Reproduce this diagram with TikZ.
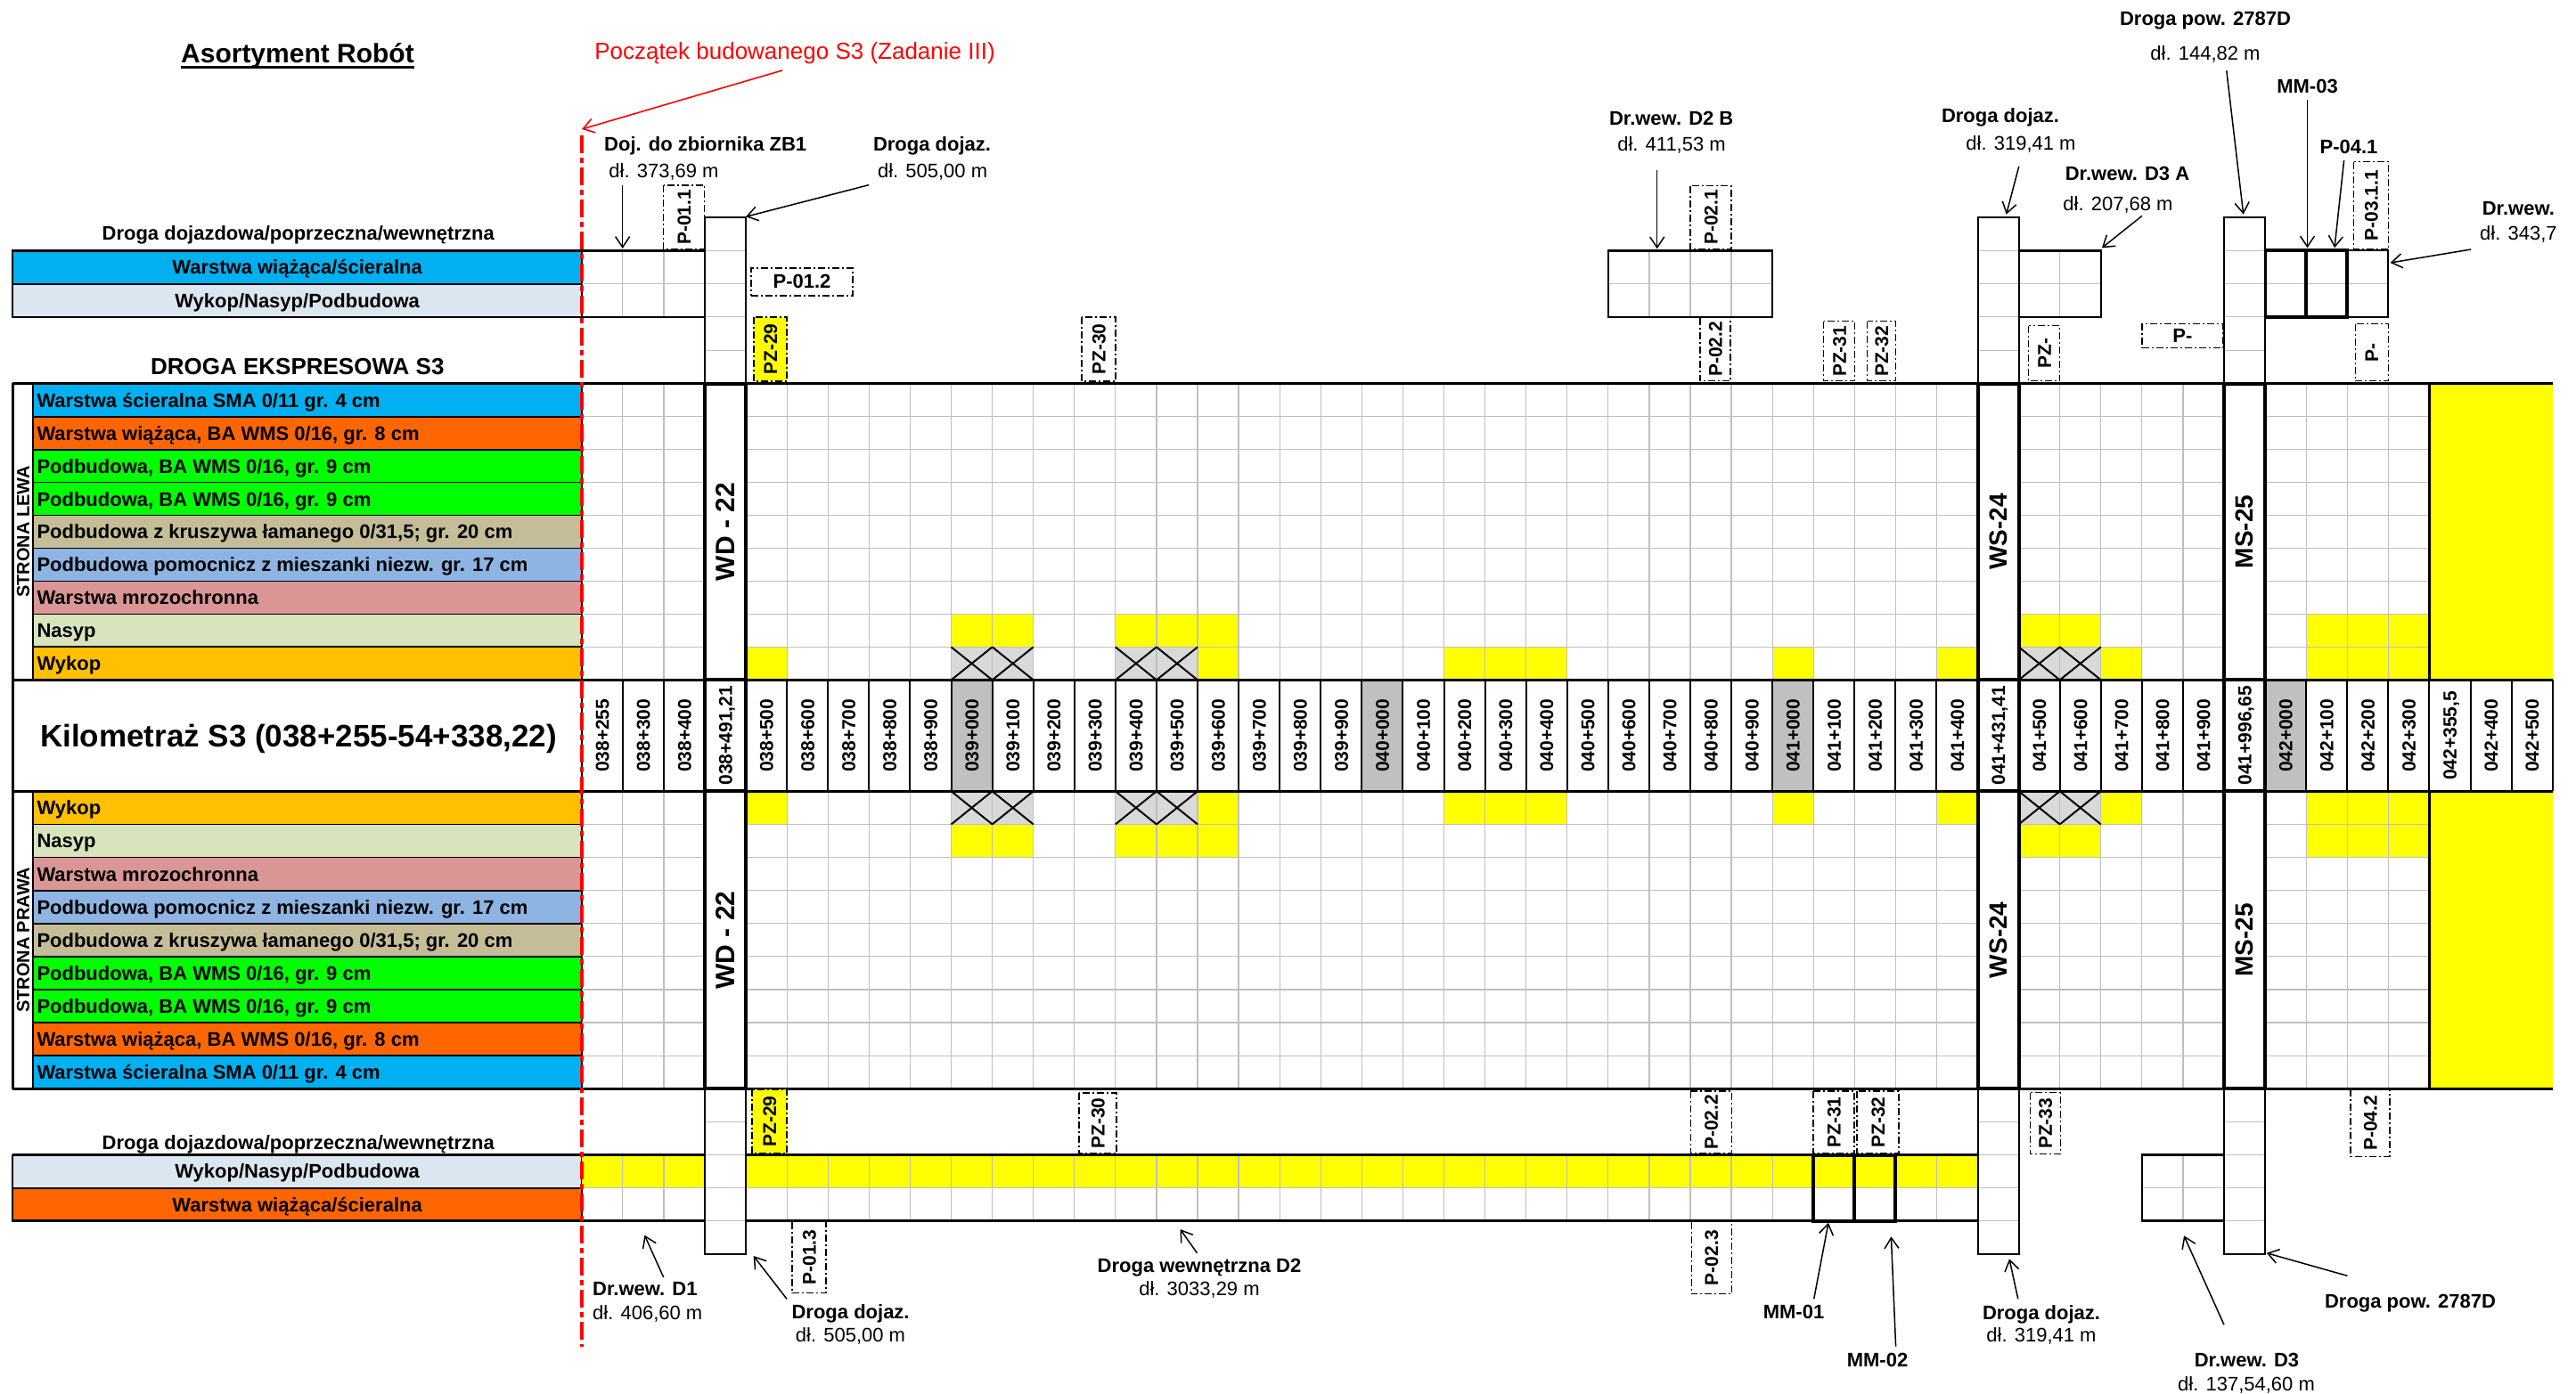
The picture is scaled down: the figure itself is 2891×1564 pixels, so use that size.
\documentclass[tikz,border=0pt]{standalone}
\usepackage{fontspec}
\setmainfont{Liberation Sans}
\usetikzlibrary{arrows.meta}

% kolory warstw
\definecolor{scieralna}{HTML}{00B0F0}
\definecolor{wiazaca}{HTML}{FF6600}
\definecolor{podbud}{HTML}{00FF00}
\definecolor{kruszywo}{HTML}{C4BD97}
\definecolor{pomocn}{HTML}{8DB4E2}
\definecolor{mrozo}{HTML}{DA9694}
\definecolor{nasyp}{HTML}{D8E4BC}
\definecolor{wykop}{HTML}{FFC000}
\definecolor{drogaw}{HTML}{DCE6F1}
\definecolor{szarysiatki}{HTML}{BFBFBF}
\definecolor{szarykm}{HTML}{C0C0C0}
\definecolor{krzyz}{HTML}{D9D9D9}
\definecolor{zolty}{HTML}{FFFF00}

\newcommand{\xo}{652.8}  % poczatek siatki (038+255)
\newcommand{\cw}{46.08}  % szerokosc kolumny

\tikzset{
  opis/.style={font=\fontsize{22}{24}\selectfont\bfseries, inner sep=0pt, text height=15.8pt, text depth=0pt},
  dlugosc/.style={font=\fontsize{22}{24}\selectfont, inner sep=0pt, text height=15.8pt, text depth=0pt},
  warstwa/.style={opis, anchor=west},
  km/.style={font=\fontsize{21}{23}\selectfont\bfseries, rotate=90, inner sep=0pt, text height=15pt, text depth=0pt},
  strona/.style={font=\fontsize{20}{22}\selectfont\bfseries, rotate=90, inner sep=0pt, text height=14.3pt, text depth=0pt},
  przekroj/.style={draw, line width=1.2pt, dash pattern=on 8pt off 3pt on 2pt off 3pt,
    font=\fontsize{21}{23}\selectfont\bfseries, inner sep=0pt, text height=15pt, text depth=0pt},
  pion/.style={przekroj, rotate=90},
  wskaz/.style={-{Straight Barb[length=12pt,width=16pt]}, line width=1.5pt},
  siatka/.style={draw=szarysiatki, line width=1.2pt},
  gruba/.style={line width=4pt},
}

\begin{document}
\begin{tikzpicture}[x=1pt,y=-1pt]
\useasboundingbox (0,0) rectangle (2891,1564);

% Tytul
\node[font=\fontsize{30}{32}\selectfont\bfseries, inner sep=0pt, anchor=base] (tytul) at (334,70) {Asortyment Robót};
\draw[line width=2.7pt] ([yshift=-5.5pt]tytul.base west) -- ([yshift=-5.5pt]tytul.base east);
\node[opis, font=\fontsize{26}{28}\selectfont\bfseries, text height=18.7pt] (ds3) at (333.8,410.7) {DROGA EKSPRESOWA S3};

% Droga dojazdowa - gora
\node[opis] (dd1) at (334.7,261.7) {Droga dojazdowa/poprzeczna/wewnętrzna};
\filldraw[fill=scieralna, line width=2pt] (14.4,281.3) rectangle (\xo,318.5);
\filldraw[fill=drogaw, line width=2pt] (14.4,318.5) rectangle (\xo,355.8);
\node[opis] (ww1) at (333.6,299.9) {Warstwa wiążąca/ścieralna};
\node[opis] (wnp1) at (333.6,337.1) {Wykop/Nasyp/Podbudowa};
\foreach \i in {1,2} \draw[siatka] (\xo+\cw*\i,281.3) -- (\xo+\cw*\i,355.8);
\draw[siatka] (\xo,318.5) -- (\xo+\cw*3,318.5);
\draw[line width=2.5pt] (14.4,281.3) -- (\xo+\cw*3,281.3);
\draw[line width=2.5pt] (14.4,355.8) -- (\xo+\cw*3,355.8);

% Opisy warstw - strona lewa
\foreach \kol [count=\j from 0] in {scieralna,wiazaca,podbud,podbud,kruszywo,pomocn,mrozo,nasyp,wykop}
  \filldraw[fill=\kol, line width=1.8pt] (37.3,430.7+36.96*\j) rectangle (\xo,430.7+36.96*\j+36.96);
\node[warstwa] (l1) at (41.3,449.2) {Warstwa ścieralna SMA 0/11 gr. 4 cm};
\node[warstwa] (l2) at (41.3,486.1) {Warstwa wiążąca, BA WMS 0/16, gr. 8 cm};
\node[warstwa] (l3) at (41.3,523.1) {Podbudowa, BA WMS 0/16, gr. 9 cm};
\node[warstwa] (l4) at (41.3,560.1) {Podbudowa, BA WMS 0/16, gr. 9 cm};
\node[warstwa] (l5) at (41.3,597.0) {Podbudowa z kruszywa łamanego 0/31,5; gr. 20 cm};
\node[warstwa] (l6) at (41.3,634.0) {Podbudowa pomocnicz z mieszanki niezw. gr. 17 cm};
\node[warstwa] (l7) at (41.3,670.9) {Warstwa mrozochronna};
\node[warstwa] (l8) at (41.3,707.9) {Nasyp};
\node[warstwa] (l9) at (41.3,744.8) {Wykop};
\draw[line width=2pt] (14.4,430.7) rectangle (37.3,763.3);
\node[strona] (lewa) at (25.8,597) {STRONA LEWA};

% Opisy warstw - strona prawa
\foreach \kol [count=\j from 0] in {wykop,nasyp,mrozo,pomocn,kruszywo,podbud,podbud,wiazaca,scieralna}
  \filldraw[fill=\kol, line width=1.8pt] (37.3,888.3+37.11*\j) rectangle (\xo,888.3+37.11*\j+37.11);
\node[warstwa] (p1) at (41.3,906.9) {Wykop};
\node[warstwa] (p2) at (41.3,944.0) {Nasyp};
\node[warstwa] (p3) at (41.3,981.1) {Warstwa mrozochronna};
\node[warstwa] (p4) at (41.3,1018.2) {Podbudowa pomocnicz z mieszanki niezw. gr. 17 cm};
\node[warstwa] (p5) at (41.3,1055.3) {Podbudowa z kruszywa łamanego 0/31,5; gr. 20 cm};
\node[warstwa] (p6) at (41.3,1092.4) {Podbudowa, BA WMS 0/16, gr. 9 cm};
\node[warstwa] (p7) at (41.3,1129.5) {Podbudowa, BA WMS 0/16, gr. 9 cm};
\node[warstwa] (p8) at (41.3,1166.6) {Warstwa wiążąca, BA WMS 0/16, gr. 8 cm};
\node[warstwa] (p9) at (41.3,1203.7) {Warstwa ścieralna SMA 0/11 gr. 4 cm};
\draw[line width=2pt] (14.4,888.3) rectangle (37.3,1222.3);
\node[strona] (prawa) at (25.8,1055.3) {STRONA PRAWA};

% Wykop i nasyp w siatce
\foreach \i in {9,10,13,14,15,35,36,42,43,44} {
  \fill[zolty] (\xo+\cw*\i,689.4) rectangle +(\cw,36.96);
  \fill[zolty] (\xo+\cw*\i,925.4) rectangle +(\cw,37.11);
}
\foreach \i in {4,15,21,22,23,29,33,37,42,43,44} {
  \fill[zolty] (\xo+\cw*\i,726.4) rectangle +(\cw,36.96);
  \fill[zolty] (\xo+\cw*\i,888.3) rectangle +(\cw,37.11);
}
\foreach \i in {9,10,13,14,35,36} {
  \fill[krzyz] (\xo+\cw*\i,726.4) rectangle +(\cw,36.96);
  \fill[krzyz] (\xo+\cw*\i,888.3) rectangle +(\cw,37.11);
}

% Siatka
\foreach \j in {0,...,9} {
  \draw[siatka] (\xo,430.7+36.96*\j) -- (\xo+\cw*45,430.7+36.96*\j);
  \draw[siatka] (\xo,888.3+37.11*\j) -- (\xo+\cw*45,888.3+37.11*\j);
}
\foreach \i in {1,...,45} {
  \draw[siatka] (\xo+\cw*\i,430.7) -- (\xo+\cw*\i,763.3);
  \draw[siatka] (\xo+\cw*\i,888.3) -- (\xo+\cw*\i,1222.3);
}
\foreach \i in {9,10,13,14,35,36} {
  \draw[line width=2pt] (\xo+\cw*\i,726.4) -- +(\cw,36.96) (\xo+\cw*\i+\cw,726.4) -- +(-\cw,36.96);
  \draw[line width=2pt] (\xo+\cw*\i,888.3) -- +(\cw,37.11) (\xo+\cw*\i+\cw,888.3) -- +(-\cw,37.11);
}
\fill[zolty] (\xo+\cw*45,430.7) rectangle (2865,763.3);
\fill[zolty] (\xo+\cw*45,888.3) rectangle (2865,1222.3);
\draw[line width=3pt] (\xo+\cw*45,430.7) -- (\xo+\cw*45,763.3);
\draw[line width=3pt] (\xo+\cw*45,888.3) -- (\xo+\cw*45,1222.3);

% Kilometraz
\foreach \i in {9,19,29,41} \fill[szarykm] (\xo+\cw*\i,763.3) rectangle +(\cw,125);
\foreach \i in {0,...,48} \draw[line width=2pt] (\xo+\cw*\i,763.3) -- +(0,125);
\draw[line width=2pt] (14.4,763.3) -- (14.4,888.3);
\node[font=\fontsize{35}{37}\selectfont\bfseries, inner sep=0pt, text height=25pt, text depth=0pt] (kms3) at (335,826) {Kilometraż S3 (038+255-54+338,22)};

% Grube linie
\foreach \y in {430.7,763.3,888.3,1222.3} \draw[line width=3pt] (14.4,\y) -- (2865,\y);
\draw[line width=3pt] (14.4,430.7) -- (14.4,1222.3);

% Droga dojazdowa - dol
\node[opis] (dd2) at (334.7,1282.3) {Droga dojazdowa/poprzeczna/wewnętrzna};
\filldraw[fill=drogaw, line width=2pt] (14.4,1296.5) rectangle (\xo,1333.6);
\filldraw[fill=wiazaca, line width=2pt] (14.4,1333.6) rectangle (\xo,1370.7);
\node[opis] (wnp2) at (333.6,1315) {Wykop/Nasyp/Podbudowa};
\node[opis] (ww2) at (333.6,1352.2) {Warstwa wiążąca/ścieralna};
\fill[zolty] (\xo,1296.5) rectangle (\xo+\cw*34,1333.6);
\foreach \i in {1,...,33} \draw[siatka] (\xo+\cw*\i,1296.5) -- (\xo+\cw*\i,1370.7);
\draw[siatka] (\xo,1333.6) -- (\xo+\cw*34,1333.6);
\draw[line width=2.5pt] (14.4,1296.5) -- (\xo+\cw*34,1296.5);
\draw[line width=2.5pt] (14.4,1370.7) -- (\xo+\cw*34,1370.7);
\draw[gruba] (\xo+\cw*30,1296.5) rectangle +(\cw,74.2);
\draw[gruba] (\xo+\cw*31,1296.5) rectangle +(\cw,74.2);

% Dr.wew. D3 - dol
\draw[siatka] (\xo+\cw*39,1296.5) -- +(0,74.2);
\draw[siatka] (\xo+\cw*38,1333.6) -- +(\cw*2,0);
\draw[line width=2.5pt] (\xo+\cw*38,1296.5) rectangle +(\cw*2,74.2);

% Dr.wew. D2 B, D3 A, MM-03 - gora
\foreach \i in {26,27,28} \draw[siatka] (\xo+\cw*\i,281.3) -- +(0,74.5);
\draw[siatka] (\xo+\cw*25,318.5) -- +(\cw*4,0);
\draw[line width=2.5pt] (\xo+\cw*25,281.3) rectangle +(\cw*4,74.5);
\draw[siatka] (\xo+\cw*36,281.3) -- +(0,74.5);
\draw[siatka] (\xo+\cw*35,318.5) -- +(\cw*2,0);
\draw[line width=2.5pt] (\xo+\cw*35,281.3) rectangle +(\cw*2,74.5);
\draw[siatka] (\xo+\cw*41,318.5) -- +(\cw*3,0);
\draw[line width=2pt] (\xo+\cw*43,281.3) rectangle +(\cw,74.5);
\draw[gruba] (\xo+\cw*41,281.3) rectangle +(\cw,74.5);
\draw[gruba] (\xo+\cw*42,281.3) rectangle +(\cw,74.5);

% Obiekty WD-22, WS-24, MS-25
\foreach \i/\nazwa/\rozm [count=\n] in {3/{WD - 22}/30,34/WS-24/28,40/MS-25/28} {
  \draw[line width=2pt, fill=white] (\xo+\cw*\i,244.3) rectangle +(\cw,186.4);
  \draw[line width=2pt, fill=white] (\xo+\cw*\i,1222.3) rectangle +(\cw,186);
  \foreach \y in {281.3,318.5,355.8,393.2,1259.4,1296.5,1333.6,1370.7}
    \draw[siatka] (\xo+\cw*\i,\y) -- +(\cw,0);
  \draw[line width=2pt] (\xo+\cw*\i,244.3) rectangle +(\cw,186.4);
  \draw[line width=2pt] (\xo+\cw*\i,1222.3) rectangle +(\cw,186);
  \draw[gruba, fill=white] (\xo+\cw*\i,430.7) rectangle +(\cw,332.6);
  \draw[gruba, fill=white] (\xo+\cw*\i,763.3) rectangle +(\cw,125);
  \draw[gruba, fill=white] (\xo+\cw*\i,888.3) rectangle +(\cw,334);
  \node[font=\fontsize{\rozm}{\rozm}\selectfont\bfseries, rotate=90, inner sep=0pt] (obg\n) at (\xo+\cw*\i+\cw/2,597) {\nazwa};
  \node[font=\fontsize{\rozm}{\rozm}\selectfont\bfseries, rotate=90, inner sep=0pt] (obd\n) at (\xo+\cw*\i+\cw/2,1055.3) {\nazwa};
}

% Opisy kilometrazu
\foreach \km [count=\i from 0] in {038+255,038+300,038+400,{038+491,21},038+500,038+600,038+700,038+800,038+900,
  039+000,039+100,039+200,039+300,039+400,039+500,039+600,039+700,039+800,039+900,
  040+000,040+100,040+200,040+300,040+400,040+500,040+600,040+700,040+800,040+900,
  041+000,041+100,041+200,041+300,041+400,{041+431,41},041+500,041+600,041+700,041+800,041+900,{041+996,65},
  042+000,042+100,042+200,042+300,{042+355,5},042+400,042+500}
  \node[km] (km\i) at (\xo+\cw*\i+\cw/2,825.8) {\km};

% Przekroje
\node[pion, fill=zolty, minimum width=72, minimum height=37] (pz29g) at (864.5,392) {PZ-29};
\node[pion, fill=zolty, minimum width=72, minimum height=39] (pz29d) at (863.5,1259) {PZ-29};
\node[przekroj, font=\fontsize{22}{24}\selectfont\bfseries, minimum width=114, minimum height=31] (p012) at (900,316.4) {P-01.2};
\node[przekroj, font=\fontsize{22}{24}\selectfont\bfseries, minimum width=91, minimum height=27] (pgp) at (2449.4,377.3) {P-};
\foreach \px/\py/\dl/\gr/\tekst [count=\n] in {
  767.6/244/72/46/P-01.1, 1233/392/72/38/PZ-30, 1920/244/71/46/P-02.1, 1925/392/71/34/P-02.2,
  2064.3/394.3/67/35/PZ-31, 2111.5/394.3/67/32/PZ-32, 2294.3/396.7/62/35/PZ-,
  2661/230.5/98/39/P-03.1.1, 2661.6/395.8/64/37/P-,
  1232/1261/68/42/PZ-30, 908/1411.7/80/38/P-01.3, 1920.4/1260/70/46/P-02.2,
  2058/1260/70/46/PZ-31, 2107.5/1260/70/47/PZ-32, 1920.7/1412.2/81/45/P-02.3,
  2295.3/1261.3/69/34/PZ-33, 2660/1260.8/75/44/P-04.2}
  \node[pion, minimum width=\dl, minimum height=\gr] (prz\n) at (\px,\py) {\tekst};

% Opisy drog - gora
\node[font=\fontsize{26}{28}\selectfont, text=red, inner sep=0pt] (poczatek) at (892,60) {Początek budowanego S3 (Zadanie III)};
\coordinate (pocz1) at (878,79);
\coordinate (pocz2) at (653,145);
\draw[wskaz, red, line width=1.6pt] (pocz1) -- (pocz2);

\node[opis] (zb1) at (791.7,162) {Doj. do zbiornika ZB1};
\node[dlugosc] (zb1d) at (745,191.7) {dł. 373,69 m};
\coordinate (zb1a) at (698.7,208);
\coordinate (zb1b) at (698.7,279);
\draw[wskaz] (zb1a) -- (zb1b);

\node[opis] (dj1) at (1046,161.7) {Droga dojaz.};
\node[dlugosc] (dj1d) at (1046.6,191.7) {dł. 505,00 m};
\coordinate (dj1a) at (974.9,207.7);
\coordinate (dj1b) at (837,243.3);
\draw[wskaz] (dj1a) -- (dj1b);

\node[opis] (d2b) at (1875.7,132.7) {Dr.wew. D2 B};
\node[dlugosc] (d2bd) at (1876,161.7) {dł. 411,53 m};
\coordinate (d2ba) at (1859.7,191);
\coordinate (d2bb) at (1859.7,279.3);
\draw[wskaz] (d2ba) -- (d2bb);

\node[opis] (dj2) at (2245,130) {Droga dojaz.};
\node[dlugosc] (dj2d) at (2268,160.7) {dł. 319,41 m};
\coordinate (dj2a) at (2265.8,186.7);
\coordinate (dj2b) at (2251.6,240.7);
\draw[wskaz] (dj2a) -- (dj2b);

\node[opis] (d3a) at (2387.5,195) {Dr.wew. D3 A};
\node[dlugosc] (d3ad) at (2377,228.3) {dł. 207,68 m};
\coordinate (d3aa) at (2404,242.3);
\coordinate (d3ab) at (2358.9,278.3);
\draw[wskaz] (d3aa) -- (d3ab);

\node[opis] (pow1) at (2475,20.7) {Droga pow. 2787D};
\node[dlugosc] (pow1d) at (2475,60) {dł. 144,82 m};
\coordinate (pow1a) at (2498.8,79.3);
\coordinate (pow1b) at (2517.7,240.7);
\draw[wskaz] (pow1a) -- (pow1b);

\node[opis] (mm3) at (2589.5,96.7) {MM-03};
\coordinate (mm3a) at (2589.5,111.7);
\coordinate (mm3b) at (2589.5,278.3);
\draw[wskaz] (mm3a) -- (mm3b);

\node[opis] (p041) at (2636,165) {P-04.1};
\coordinate (p041a) at (2630.6,180);
\coordinate (p041b) at (2620,278.3);
\draw[wskaz] (p041a) -- (p041b);

\node[opis, anchor=west] (dww) at (2785.6,233.3) {Dr.wew.};
\node[dlugosc, anchor=west] (dwwd) at (2783,261.7) {dł. 343,7};
\coordinate (dwwa) at (2773,280);
\coordinate (dwwb) at (2682.6,295);
\draw[wskaz] (dwwa) -- (dwwb);

% Opisy drog - dol
\node[opis, anchor=west] (d1) at (665,1446.7) {Dr.wew. D1};
\node[dlugosc, anchor=west] (d1d) at (665,1473.3) {dł. 406,60 m};
\coordinate (d1a) at (744.7,1434);
\coordinate (d1b) at (723.4,1386.7);
\draw[wskaz] (d1a) -- (d1b);

\node[opis] (dj3) at (954.6,1473) {Droga dojaz.};
\node[dlugosc] (dj3d) at (954.5,1499) {dł. 505,00 m};
\coordinate (dj3a) at (883,1458.3);
\coordinate (dj3b) at (845.7,1410);
\draw[wskaz] (dj3a) -- (dj3b);

\node[opis] (d2) at (1346,1421) {Droga wewnętrzna D2};
\node[dlugosc] (d2d) at (1346,1446.7) {dł. 3033,29 m};
\coordinate (d2a) at (1343.4,1406.7);
\coordinate (d2b) at (1324.5,1380);
\draw[wskaz] (d2a) -- (d2b);

\node[opis] (mm1) at (2013,1472.7) {MM-01};
\coordinate (mm1a) at (2035.7,1458.3);
\coordinate (mm1b) at (2052,1372.7);
\draw[wskaz] (mm1a) -- (mm1b);

\node[opis] (mm2) at (2107,1526.7) {MM-02};
\coordinate (mm2a) at (2127.6,1511.7);
\coordinate (mm2b) at (2122.4,1388.3);
\draw[wskaz] (mm2a) -- (mm2b);

\node[opis] (dj4) at (2291,1473.3) {Droga dojaz.};
\node[dlugosc] (dj4d) at (2291,1498.3) {dł. 319,41 m};
\coordinate (dj4a) at (2264.8,1458.3);
\coordinate (dj4b) at (2255,1413.3);
\draw[wskaz] (dj4a) -- (dj4b);

\node[opis] (d3) at (2521.5,1526.7) {Dr.wew. D3};
\node[dlugosc] (d3d) at (2521,1553.3) {dł. 137,54,60 m};
\coordinate (d3x) at (2496,1487.3);
\coordinate (d3y) at (2451,1387.3);
\draw[wskaz] (d3x) -- (d3y);

\node[opis] (pow2) at (2705,1460.7) {Droga pow. 2787D};
\coordinate (pow2a) at (2634.4,1432.3);
\coordinate (pow2b) at (2543.7,1406.7);
\draw[wskaz] (pow2a) -- (pow2b);

% Poczatek budowanego S3
\draw[red, line width=3.5pt, dash pattern=on 20pt off 5pt on 6pt off 5pt] (653,152) -- (653,1512);
\end{tikzpicture}
\end{document}
